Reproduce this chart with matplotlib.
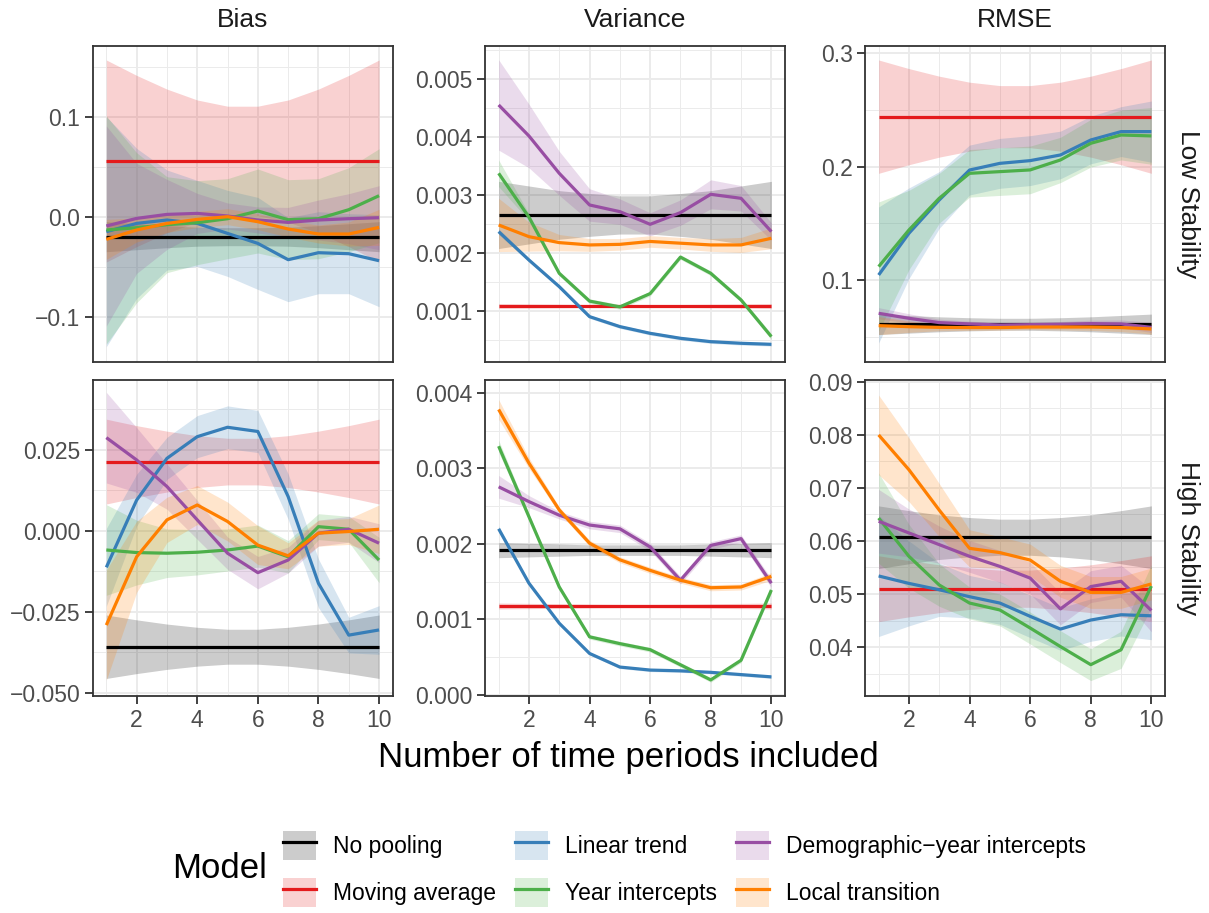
import matplotlib
matplotlib.use("Agg")
import matplotlib.pyplot as plt
from matplotlib.ticker import MultipleLocator
from matplotlib.patches import Patch
from matplotlib.lines import Line2D

plt.rcParams['font.family'] = ['Liberation Sans', 'DejaVu Sans']

periods = [1, 2, 3, 4, 5, 6, 7, 8, 9, 10]
models = ["No pooling", "Moving average", "Linear trend", "Year intercepts",
          "Demographic\u2212year intercepts", "Local transition"]
colours = ["#000000", "#E41A1C", "#377EB8", "#4DAF4A", "#984EA3", "#FF7F00"]
metrics = ["Bias", "Variance", "RMSE"]
stabilities = ["Low Stability", "High Stability"]

# smoothed estimates, one list per model (same order as models)
low_bias_fit = [
    [-0.020] * 10,
    [0.0557] * 10,
    [-0.015, -0.0067, -0.0033, -0.0067, -0.0167, -0.0267, -0.043, -0.036, -0.037, -0.044],
    [-0.0133, -0.011, -0.008, -0.006, -0.002, 0.0057, -0.003, -0.002, 0.007, 0.021],
    [-0.0093, -0.0017, 0.0023, 0.0033, 0.0007, -0.0033, -0.0057, -0.0033, -0.002, -0.001],
    [-0.0227, -0.0133, -0.0067, -0.0027, 0.0, -0.005, -0.0123, -0.0173, -0.0173, -0.0107],
]
low_bias_band = [
    [0.015, 0.013, 0.011, 0.0095, 0.009, 0.009, 0.0095, 0.011, 0.013, 0.015],
    [0.101, 0.0856, 0.0719, 0.061, 0.0548, 0.0548, 0.061, 0.0719, 0.0856, 0.101],
    [0.115, 0.075, 0.05, 0.043, 0.043, 0.046, 0.042, 0.041, 0.040, 0.046],
    [0.114, 0.075, 0.048, 0.042, 0.040, 0.042, 0.040, 0.040, 0.042, 0.047],
    [0.1, 0.055, 0.035, 0.02, 0.013, 0.013, 0.015, 0.02, 0.025, 0.032],
    [0.02, 0.012, 0.009, 0.008, 0.008, 0.008, 0.008, 0.009, 0.012, 0.018],
]

low_var_fit = [
    [0.002658] * 10,
    [0.001086] * 10,
    [0.00237, 0.00188, 0.00142, 0.000902, 0.00073, 0.000614, 0.000528, 0.00047, 0.000442, 0.000424],
    [0.003377, 0.00262, 0.00165, 0.00117, 0.00107, 0.0013, 0.00193, 0.00165, 0.00119, 0.000557],
    [0.004557, 0.004022, 0.003377, 0.00283, 0.002715, 0.002496, 0.002698, 0.003014, 0.002945, 0.00237],
    [0.002485, 0.002283, 0.00218, 0.00214, 0.00215, 0.0022, 0.00217, 0.00214, 0.00214, 0.002255],
]
low_var_band = [
    [0.00058, 0.0005, 0.00042, 0.00037, 0.00033, 0.00033, 0.00037, 0.00042, 0.0005, 0.00058],
    [0.00004, 0.000035, 0.00003, 0.000025, 0.000022, 0.000022, 0.000025, 0.00003, 0.000035, 0.00004],
    [0.00005, 0.00003, 0.00003, 0.00003, 0.00003, 0.00003, 0.00003, 0.00003, 0.00003, 0.00003],
    [0.00023, 0.00006, 0.00004, 0.00004, 0.00004, 0.00004, 0.00004, 0.00004, 0.00004, 0.00005],
    [0.00078, 0.00055, 0.00038, 0.00028, 0.00022, 0.0002, 0.00022, 0.00025, 0.00022, 0.00015],
    [0.00046, 0.00025, 0.00014, 0.00011, 0.0001, 0.0001, 0.0001, 0.00011, 0.00013, 0.00018],
]

low_rmse_fit = [
    [0.0609] * 10,
    [0.2441] * 10,
    [0.1044, 0.1412, 0.1706, 0.197, 0.2029, 0.2053, 0.2103, 0.2235, 0.2309, 0.2309],
    [0.1118, 0.1441, 0.1721, 0.1941, 0.1956, 0.1971, 0.2059, 0.2206, 0.2279, 0.2271],
    [0.0706, 0.0662, 0.0624, 0.0612, 0.0603, 0.0606, 0.0609, 0.0615, 0.0612, 0.0582],
    [0.0597, 0.0588, 0.0582, 0.058, 0.058, 0.0585, 0.0585, 0.0585, 0.058, 0.0568],
]
low_rmse_band = [
    [0.009, 0.0078, 0.0066, 0.0058, 0.0053, 0.0053, 0.0058, 0.0066, 0.0078, 0.009],
    [0.05, 0.0424, 0.0357, 0.0304, 0.0274, 0.0274, 0.0304, 0.0357, 0.0424, 0.05],
    [0.06, 0.04, 0.025, 0.022, 0.022, 0.022, 0.021, 0.021, 0.022, 0.027],
    [0.057, 0.035, 0.022, 0.021, 0.021, 0.021, 0.02, 0.021, 0.022, 0.025],
    [0.005, 0.004, 0.003, 0.0025, 0.0022, 0.0022, 0.0025, 0.003, 0.0035, 0.0045],
    [0.008, 0.005, 0.003, 0.0025, 0.0022, 0.0022, 0.0025, 0.003, 0.0035, 0.0045],
]

high_bias_fit = [
    [-0.03578] * 10,
    [0.0214] * 10,
    [-0.01126, 0.0095, 0.0224, 0.0291, 0.032, 0.0307, 0.0106, -0.0162, -0.0322, -0.0306],
    [-0.0059, -0.0067, -0.0069, -0.0066, -0.0059, -0.0047, -0.008, 0.0013, 0.0005, -0.009],
    [0.0288, 0.0219, 0.0137, 0.0034, -0.0069, -0.0129, -0.009, -0.0007, 0.0005, -0.0038],
    [-0.0291, -0.008, 0.0034, 0.008, 0.0029, -0.0044, -0.0077, -0.0007, -0.0002, 0.0005],
]
high_bias_band = [
    [0.0098, 0.0083, 0.007, 0.006, 0.0054, 0.0054, 0.006, 0.007, 0.0083, 0.0098],
    [0.0131, 0.0111, 0.0094, 0.008, 0.0072, 0.0072, 0.008, 0.0094, 0.0111, 0.0131],
    [0.012, 0.008, 0.0065, 0.0065, 0.0066, 0.0065, 0.007, 0.0075, 0.0055, 0.0075],
    [0.014, 0.01, 0.0075, 0.007, 0.0065, 0.0065, 0.005, 0.004, 0.004, 0.007],
    [0.014, 0.01, 0.007, 0.006, 0.005, 0.005, 0.004, 0.004, 0.004, 0.006],
    [0.017, 0.011, 0.007, 0.006, 0.006, 0.006, 0.004, 0.004, 0.004, 0.0075],
]

high_var_fit = [
    [0.001918] * 10,
    [0.001178] * 10,
    [0.0022, 0.00148, 0.00095, 0.00055, 0.00037, 0.00033, 0.00032, 0.0003, 0.00027, 0.00024],
    [0.003294, 0.00236, 0.00143, 0.00077, 0.00068, 0.0006, 0.0004, 0.0002, 0.00046, 0.00139],
    [0.002756, 0.00256, 0.00238, 0.00225, 0.0022, 0.00196, 0.00152, 0.00198, 0.00207, 0.00148],
    [0.00378, 0.00307, 0.00245, 0.00201, 0.00179, 0.00165, 0.00152, 0.00142, 0.00143, 0.00157],
]
high_var_band = [
    [0.0001, 0.00009, 0.00008, 0.00007, 0.00007, 0.00007, 0.00007, 0.00008, 0.00009, 0.0001],
    [0.00004, 0.000035, 0.00003, 0.000025, 0.000022, 0.000022, 0.000025, 0.00003, 0.000035, 0.00004],
    [0.00004, 0.00002, 0.00002, 0.00002, 0.00002, 0.00002, 0.00002, 0.00002, 0.00002, 0.00002],
    [0.00008, 0.00004, 0.00003, 0.00003, 0.00003, 0.00003, 0.00003, 0.00003, 0.00003, 0.00004],
    [0.00015, 0.00008, 0.00005, 0.00005, 0.00005, 0.00005, 0.00005, 0.00005, 0.00005, 0.00006],
    [0.00013, 0.00007, 0.00004, 0.00004, 0.00004, 0.00004, 0.00004, 0.00004, 0.00004, 0.00005],
]

high_rmse_fit = [
    [0.0607] * 10,
    [0.051] * 10,
    [0.0534, 0.052, 0.0508, 0.0495, 0.0483, 0.0458, 0.0434, 0.0451, 0.0461, 0.0459],
    [0.0643, 0.0571, 0.0517, 0.0483, 0.047, 0.0436, 0.0401, 0.0367, 0.0395, 0.0515],
    [0.0637, 0.0615, 0.0593, 0.0571, 0.0552, 0.053, 0.0472, 0.0514, 0.0524, 0.0469],
    [0.07996, 0.0734, 0.0658, 0.0586, 0.0578, 0.0564, 0.0524, 0.0503, 0.0503, 0.0519],
]
high_rmse_band = [
    [0.0059, 0.005, 0.0042, 0.0037, 0.0034, 0.0034, 0.0037, 0.0042, 0.005, 0.0059],
    [0.0062, 0.0053, 0.0045, 0.0039, 0.0035, 0.0035, 0.0039, 0.0045, 0.0053, 0.0062],
    [0.0114, 0.008, 0.005, 0.004, 0.004, 0.004, 0.004, 0.004, 0.004, 0.0045],
    [0.0085, 0.006, 0.004, 0.003, 0.003, 0.003, 0.003, 0.003, 0.0035, 0.004],
    [0.006, 0.0045, 0.0035, 0.003, 0.003, 0.003, 0.003, 0.003, 0.003, 0.004],
    [0.0075, 0.006, 0.005, 0.0035, 0.003, 0.003, 0.003, 0.003, 0.003, 0.003],
]

# y axis ticks per panel (row, column)
low_bias_ticks = [-0.1, 0.0, 0.1]
low_bias_labels = ["\u22120.1", "0.0", "0.1"]
low_var_ticks = [0.001, 0.002, 0.003, 0.004, 0.005]
low_var_labels = ["0.001", "0.002", "0.003", "0.004", "0.005"]
low_rmse_ticks = [0.1, 0.2, 0.3]
low_rmse_labels = ["0.1", "0.2", "0.3"]
high_bias_ticks = [-0.05, -0.025, 0.0, 0.025]
high_bias_labels = ["\u22120.050", "\u22120.025", "0.000", "0.025"]
high_var_ticks = [0.0, 0.001, 0.002, 0.003, 0.004]
high_var_labels = ["0.000", "0.001", "0.002", "0.003", "0.004"]
high_rmse_ticks = [0.04, 0.05, 0.06, 0.07, 0.08, 0.09]
high_rmse_labels = ["0.04", "0.05", "0.06", "0.07", "0.08", "0.09"]
x_ticks = [2, 4, 6, 8, 10]

panels = [
    [(low_bias_fit, low_bias_band, low_bias_ticks, low_bias_labels, (-0.145, 0.171)),
     (low_var_fit, low_var_band, low_var_ticks, low_var_labels, (0.000124, 0.00558)),
     (low_rmse_fit, low_rmse_band, low_rmse_ticks, low_rmse_labels, (0.0279, 0.3067))],
    [(high_bias_fit, high_bias_band, high_bias_ticks, high_bias_labels, (-0.051, 0.0466)),
     (high_var_fit, high_var_band, high_var_ticks, high_var_labels, (-0.0000132, 0.00417)),
     (high_rmse_fit, high_rmse_band, high_rmse_ticks, high_rmse_labels, (0.0308, 0.0903))],
]

W, H = 1209, 913
fig = plt.figure(figsize=(W / 100, H / 100), dpi=100)
col_left = [92.7, 485, 865]
row_top = [45.7, 380]
pw, ph = 300, 316
grey = "#333333"

for r in range(2):
    for c in range(3):
        fit, band, yt, yl, ylim = panels[r][c]
        ax = fig.add_axes([col_left[c] / W, 1 - (row_top[r] + ph) / H, pw / W, ph / H])
        for m in range(len(models)):
            lo = [f - b for f, b in zip(fit[m], band[m])]
            hi = [f + b for f, b in zip(fit[m], band[m])]
            ax.fill_between(periods, lo, hi, color=colours[m], alpha=0.2, lw=0)
            ax.plot(periods, fit[m], color=colours[m], lw=2.3,
                    solid_capstyle='butt', solid_joinstyle='round')
        ax.set_xlim(0.55, 10.45)
        ax.set_ylim(*ylim)
        ax.set_xticks(x_ticks)
        ax.xaxis.set_minor_locator(MultipleLocator(1))
        ax.set_yticks(yt)
        ax.set_yticklabels(yl)
        ax.yaxis.set_minor_locator(MultipleLocator((yt[1] - yt[0]) / 2))
        ax.set_axisbelow(True)
        ax.grid(which='major', color='#EBEBEB', lw=1.4)
        ax.grid(which='minor', color='#EBEBEB', lw=0.7)
        ax.tick_params(which='major', length=6, width=1.3, color=grey,
                       labelsize=16.5, labelcolor='#4D4D4D', pad=3)
        ax.tick_params(which='minor', length=0)
        if r == 0:
            ax.tick_params(axis='x', which='both', bottom=False, labelbottom=False)
            ax.text(0.5, 1 + 25.7 / ph, metrics[c], transform=ax.transAxes,
                    ha='center', va='center', fontsize=19, color='#1A1A1A')
        if c == 2:
            ax.text(1 + 23 / pw, 0.5, stabilities[r], transform=ax.transAxes,
                    rotation=-90, ha='center', va='center', fontsize=19, color='#1A1A1A')
        for s in ax.spines.values():
            s.set_color(grey)
            s.set_linewidth(1.3)

fig.text(628 / W, 1 - 757 / H, "Number of time periods included",
         ha='center', va='center', fontsize=25)

handles = [(Patch(facecolor=col, alpha=0.2, edgecolor='none'),
            Line2D([], [], color=col, lw=2.3)) for col in colours]
fig.legend(handles, models, ncol=3, loc='center left',
           bbox_to_anchor=(283 / W, 1 - 869 / H), frameon=False,
           fontsize=16.5, handlelength=1.44, handleheight=1.6,
           labelspacing=0.75, handletextpad=0.74, columnspacing=0.83,
           borderpad=0, borderaxespad=0)
fig.text(172 / W, 1 - 868 / H, "Model", ha='left', va='center', fontsize=25)

fig.savefig("out.png", dpi=100)
